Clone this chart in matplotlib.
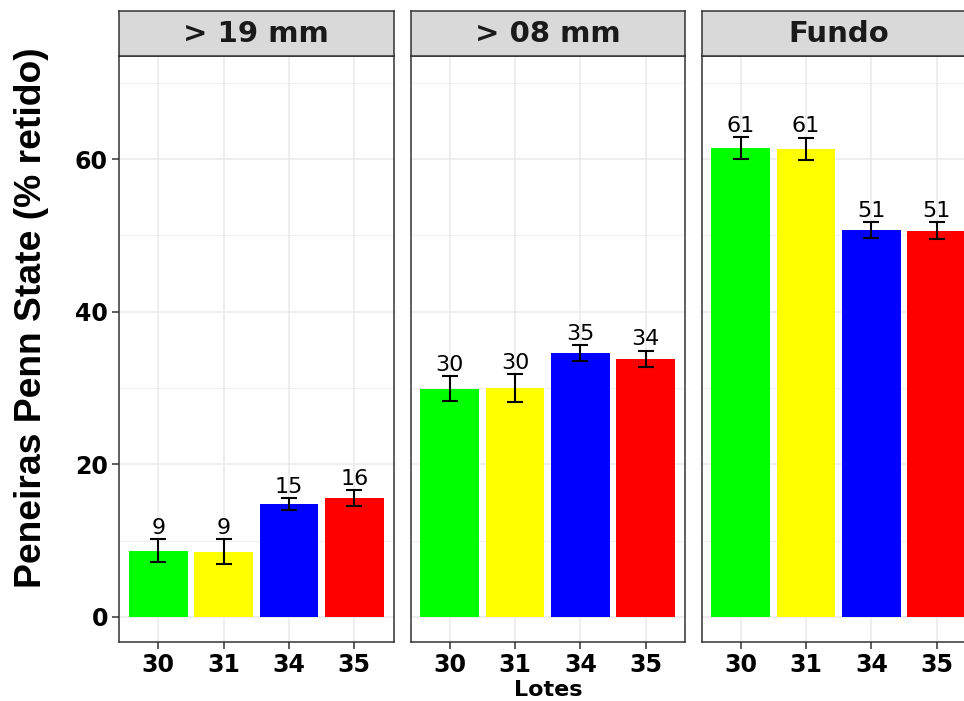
import matplotlib
matplotlib.use("Agg")
import matplotlib.pyplot as plt
import numpy as np

plt.rcParams['font.family'] = ['DejaVu Sans']

# Data
lotes = ["30", "31", "34", "35"]
peneiras = ["> 19 mm", "> 08 mm", "Fundo"]
media_19mm = [8.65, 8.55, 14.75, 15.6]
media_08mm = [29.9, 30.0, 34.6, 33.8]
media_fundo = [61.4, 61.3, 50.7, 50.6]
ep_19mm = [1.5, 1.6, 0.8, 1.0]
ep_08mm = [1.65, 1.8, 1.0, 1.05]
ep_fundo = [1.45, 1.45, 1.0, 1.1]
cores = ["#00FF00", "#FFFF00", "#0000FF", "#FF0000"]

medias = [media_19mm, media_08mm, media_fundo]
erros = [ep_19mm, ep_08mm, ep_fundo]

W, H = 964, 701
fig = plt.figure(figsize=(W / 100, H / 100), dpi=100)

panel_left = [119, 410.5, 701.5]
panel_w = 274.5
panel_top, panel_bot = 56, 642
strip_top = 11

grid_col = "#EBEBEB"
edge_col = "#333333"
x = np.arange(1, len(lotes) + 1)

for i, (nome, med, ep) in enumerate(zip(peneiras, medias, erros)):
    l = panel_left[i] / W
    b = (H - panel_bot) / H
    h = (panel_bot - panel_top) / H
    ax = fig.add_axes([l, b, panel_w / W, h])
    ax.set_xlim(0.4, 4.6)
    ax.set_ylim(-3.28, 73.5)
    ax.set_facecolor("white")
    for yv in [10, 30, 50, 70]:
        ax.axhline(yv, color=grid_col, lw=0.6, zorder=0)
    for yv in [0, 20, 40, 60]:
        ax.axhline(yv, color=grid_col, lw=1.2, zorder=0)
    for xv in x:
        ax.axvline(xv, color=grid_col, lw=1.2, zorder=0)

    ax.bar(x, med, width=0.9, color=cores, zorder=2)
    ax.errorbar(x, med, yerr=ep, fmt="none", ecolor="black", elinewidth=1.5,
                capsize=6, capthick=1.5, zorder=3)
    for xi, m, e in zip(x, med, ep):
        ax.annotate(f"{int(np.floor(m + 0.5))}", (xi, m + e), xytext=(0, 4),
                    textcoords="offset points", ha="center", va="baseline",
                    fontsize=16, color="black", zorder=4)

    ax.set_xticks(x)
    ax.set_xticklabels(lotes, fontsize=17, fontweight="bold", color="black")
    ax.set_yticks([0, 20, 40, 60])
    if i == 0:
        ax.set_yticklabels(["0", "20", "40", "60"], fontsize=17,
                           fontweight="bold", color="black")
    else:
        ax.tick_params(axis="y", left=False, labelleft=False)
    ax.tick_params(axis="both", length=5, width=1.1, color=edge_col, pad=3)
    for sp in ax.spines.values():
        sp.set_color(edge_col)
        sp.set_linewidth(1.1)

    # facet strip
    sax = fig.add_axes([l, (H - panel_top) / H, panel_w / W,
                        (panel_top - strip_top) / H])
    sax.set_facecolor("#D9D9D9")
    sax.set_xticks([])
    sax.set_yticks([])
    for sp in sax.spines.values():
        sp.set_color(edge_col)
        sp.set_linewidth(1.1)
    sax.text(0.5, 0.5, nome, ha="center", va="center", fontsize=21,
             fontweight="bold", color="#1A1A1A", transform=sax.transAxes)

fig.text(32 / W, 1 - 318 / H, "Peneiras Penn State (% retido)", rotation=90,
         ha="center", va="center", fontsize=26.8, fontweight="bold",
         color="black", family=["Liberation Sans", "DejaVu Sans"])
fig.text(548 / W, 1 - 690 / H, "Lotes", ha="center", va="center",
         fontsize=16, fontweight="bold", color="black")

fig.savefig("out.png", dpi=100, facecolor="white")
